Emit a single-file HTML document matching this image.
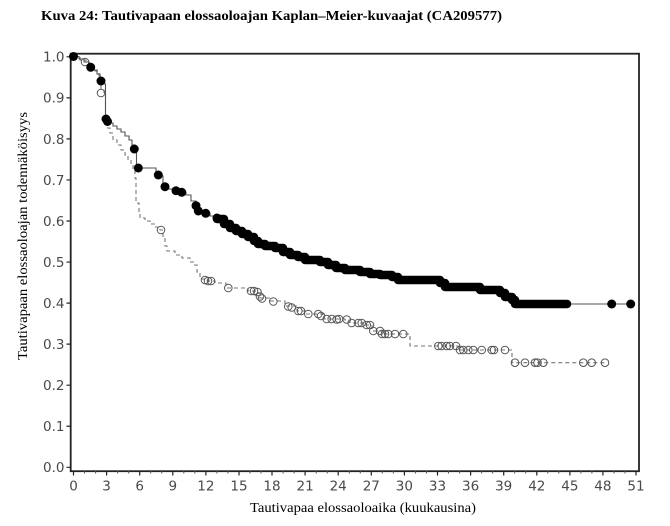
<!DOCTYPE html>
<html><head><meta charset="utf-8"><style>
html,body{margin:0;padding:0;background:#fff;}
svg{display:block;}
</style></head><body>
<svg width="670" height="526" viewBox="0 0 670 526" xmlns="http://www.w3.org/2000/svg">
<rect width="670" height="526" fill="#fff"/>
<text x="41" y="20" font-family="Liberation Serif, serif" font-weight="bold" font-size="14" fill="#000" textLength="461" lengthAdjust="spacingAndGlyphs">Kuva 24: Tautivapaan elossaoloajan Kaplan–Meier-kuvaajat (CA209577)</text>

<rect x="70.7" y="53.7" width="568.3" height="417.5" fill="none" stroke="#222" stroke-width="1.8"/>

<g stroke="#222" stroke-width="1.2">
<path d="M66.5,56.8H70.7M66.5,97.85H70.7M66.5,138.9H70.7M66.5,179.95H70.7M66.5,221H70.7M66.5,262.05H70.7M66.5,303.1H70.7M66.5,344.15H70.7M66.5,385.2H70.7M66.5,426.25H70.7M66.5,467.3H70.7"/>
</g>
<g font-family="DejaVu Sans, sans-serif" font-size="13.5" fill="#4a4a4a" text-anchor="end">
<text x="64.5" y="61.7">1.0</text>
<text x="64.5" y="102.7">0.9</text>
<text x="64.5" y="143.8">0.8</text>
<text x="64.5" y="184.8">0.7</text>
<text x="64.5" y="225.9">0.6</text>
<text x="64.5" y="266.9">0.5</text>
<text x="64.5" y="308">0.4</text>
<text x="64.5" y="349">0.3</text>
<text x="64.5" y="390.1">0.2</text>
<text x="64.5" y="431.1">0.1</text>
<text x="64.5" y="472.2">0.0</text>
</g>

<g stroke="#222" stroke-width="1.2">
<path d="M73.5,471V475.5M106.6,471V475.5M139.7,471V475.5M172.8,471V475.5M205.9,471V475.5M239,471V475.5M272,471V475.5M305.1,471V475.5M338.2,471V475.5M371.3,471V475.5M404.4,471V475.5M437.5,471V475.5M470.6,471V475.5M503.7,471V475.5M536.8,471V475.5M569.9,471V475.5M602.9,471V475.5M636,471V475.5"/>
</g>
<g stroke="#555" stroke-width="1">
<path d="M84.5,471V473.5M95.6,471V473.5M117.6,471V473.5M128.7,471V473.5M150.7,471V473.5M161.7,471V473.5M183.8,471V473.5M194.8,471V473.5M216.9,471V473.5M227.9,471V473.5M250,471V473.5M261,471V473.5M283.1,471V473.5M294.1,471V473.5M316.2,471V473.5M327.2,471V473.5M349.3,471V473.5M360.3,471V473.5M382.3,471V473.5M393.4,471V473.5M415.4,471V473.5M426.5,471V473.5M448.5,471V473.5M459.6,471V473.5M481.6,471V473.5M492.6,471V473.5M514.7,471V473.5M525.7,471V473.5M547.8,471V473.5M558.8,471V473.5M580.9,471V473.5M591.9,471V473.5M614,471V473.5M625,471V473.5"/>
</g>
<g font-family="DejaVu Sans, sans-serif" font-size="13.5" fill="#4a4a4a" text-anchor="middle">
<text x="73.5" y="490.5">0</text>
<text x="106.6" y="490.5">3</text>
<text x="139.7" y="490.5">6</text>
<text x="172.8" y="490.5">9</text>
<text x="205.9" y="490.5">12</text>
<text x="239" y="490.5">15</text>
<text x="272" y="490.5">18</text>
<text x="305.1" y="490.5">21</text>
<text x="338.2" y="490.5">24</text>
<text x="371.3" y="490.5">27</text>
<text x="404.4" y="490.5">30</text>
<text x="437.5" y="490.5">33</text>
<text x="470.6" y="490.5">36</text>
<text x="503.7" y="490.5">39</text>
<text x="536.8" y="490.5">42</text>
<text x="569.9" y="490.5">45</text>
<text x="602.9" y="490.5">48</text>
<text x="636" y="490.5">51</text>
</g>

<text x="363" y="512" font-family="Liberation Serif, serif" font-size="14" fill="#000" text-anchor="middle" textLength="226" lengthAdjust="spacingAndGlyphs">Tautivapaa elossaoloaika (kuukausina)</text>
<text transform="translate(27,236) rotate(-90)" font-family="Liberation Serif, serif" font-size="14" fill="#000" text-anchor="middle" textLength="248" lengthAdjust="spacingAndGlyphs">Tautivapaan elossaoloajan todennäköisyys</text>

<path d="M73.5,56.5 H80 V60 H86 V63 H90 V67 H95 V71 H99 V76 H101 V90 H104 V93 H105.5 V119 H106.5 V128 H110 V133 H113 V140 H117 V145 H121 V150 H125 V155 H128 V160 H131 V165 H133 V170 H135 V178 H136 V203 H139 V212 H140 V218 H145 V221 H150 V224 H155 V227 H160 V230 H163 V238 H165 V246 H167 V251 H175 V255 H182 V258 H190 V262 H194 V265 H197 V272 H200 V279 H208 V281 H215 V283 H226 V288 H248 V291 H258 V293 H260 V298 H270 V301 H285 V306 H297 V311 H306 V314 H323 V319 H345 V320 H350 V323 H365 V325 H372 V331 H382 V334 H410 V346 H458 V350 H512 V362.7 H606" fill="none" stroke="#777" stroke-width="1.1" stroke-dasharray="4,3"/>

<path d="M73.5,56.5 H79 V59 H84 V62 H89 V66 H93 V70 H97 V74 H100 V80 H104 V84 H105.5 V119 H109 V123 H113 V126 H117 V129 H121 V132 H125 V136 H129 V140 H132 V145 H135 V149 H136.5 V168 H156 V172 H160 V176 H163 V185 H167 V189 H178 V192 H186 V195 H191 V201 H196 V208 H201 V213 H210 V216 H218 V219 H224 V224 H230 V228 H236 V231 H242 V234 H248 V237 H254 V241 H258 V244 H265 V246 H275 V248 H283 V252 H290 V255 H298 V257 H305 V260 H320 V262 H328 V265 H336 V268 H345 V270 H360 V272 H370 V274 H380 V275 H392 V277 H398 V280 H440 V283 H445 V287 H480 V290 H500 V293 H505 V297 H512 V300 H515 V304 H631" fill="none" stroke="#555" stroke-width="1.1"/>

<path d="M217,219 H224 V224 H230 V228 H236 V231 H242 V234 H248 V237 H254 V241 H258 V244 H265 V246 H275 V248 H283 V252 H290 V255 H298 V257 H305 V260 H320 V262 H328 V265 H336 V268 H345 V270 H360 V272 H370 V274 H380 V275 H392 V277 H398 V280 H440 V283 H445 V287 H480 V290 H500 V293 H505 V297 H512 V300 H515 V304 H567" fill="none" stroke="#000" stroke-width="8.5" stroke-linejoin="round" stroke-linecap="round"/>

<g fill="none" stroke="#555" stroke-width="1">
<circle cx="85" cy="62" r="3.8"/>
<circle cx="101" cy="93" r="3.8"/>
<circle cx="161" cy="230" r="3.8"/>
<circle cx="205" cy="280" r="3.8"/>
<circle cx="208" cy="281" r="3.8"/>
<circle cx="211" cy="281" r="3.8"/>
<circle cx="228.3" cy="288" r="3.8"/>
<circle cx="251" cy="291" r="3.8"/>
<circle cx="254" cy="291" r="3.8"/>
<circle cx="257.5" cy="292" r="3.8"/>
<circle cx="260" cy="296.5" r="3.8"/>
<circle cx="262" cy="298.5" r="3.8"/>
<circle cx="273.3" cy="301.5" r="3.8"/>
<circle cx="288.3" cy="306.5" r="3.8"/>
<circle cx="291.7" cy="307.5" r="3.8"/>
<circle cx="298.3" cy="311" r="3.8"/>
<circle cx="301" cy="311" r="3.8"/>
<circle cx="308.3" cy="314" r="3.8"/>
<circle cx="318.3" cy="314" r="3.8"/>
<circle cx="321" cy="316" r="3.8"/>
<circle cx="326.7" cy="319" r="3.8"/>
<circle cx="331.7" cy="319" r="3.8"/>
<circle cx="336.7" cy="319.5" r="3.8"/>
<circle cx="339" cy="319" r="3.8"/>
<circle cx="346.7" cy="319.5" r="3.8"/>
<circle cx="351.7" cy="323" r="3.8"/>
<circle cx="358.3" cy="323" r="3.8"/>
<circle cx="361.7" cy="323" r="3.8"/>
<circle cx="366.7" cy="325" r="3.8"/>
<circle cx="370" cy="325" r="3.8"/>
<circle cx="373.3" cy="331" r="3.8"/>
<circle cx="380" cy="331" r="3.8"/>
<circle cx="382" cy="334" r="3.8"/>
<circle cx="385" cy="334" r="3.8"/>
<circle cx="388.3" cy="334" r="3.8"/>
<circle cx="395" cy="334" r="3.8"/>
<circle cx="403.3" cy="334" r="3.8"/>
<circle cx="438.3" cy="346" r="3.8"/>
<circle cx="441.7" cy="346" r="3.8"/>
<circle cx="446.7" cy="346" r="3.8"/>
<circle cx="450" cy="346" r="3.8"/>
<circle cx="456" cy="346" r="3.8"/>
<circle cx="460" cy="350" r="3.8"/>
<circle cx="463.3" cy="350" r="3.8"/>
<circle cx="468.3" cy="350" r="3.8"/>
<circle cx="473.3" cy="350" r="3.8"/>
<circle cx="481.7" cy="350" r="3.8"/>
<circle cx="491.7" cy="350" r="3.8"/>
<circle cx="494" cy="350" r="3.8"/>
<circle cx="505" cy="350" r="3.8"/>
<circle cx="515" cy="362.7" r="3.8"/>
<circle cx="525" cy="362.7" r="3.8"/>
<circle cx="535" cy="362.7" r="3.8"/>
<circle cx="537.5" cy="362.7" r="3.8"/>
<circle cx="543.3" cy="362.7" r="3.8"/>
<circle cx="583.3" cy="362.7" r="3.8"/>
<circle cx="591.7" cy="362.7" r="3.8"/>
<circle cx="605" cy="362.7" r="3.8"/>
</g>

<g fill="#000">
<circle cx="73.5" cy="56.5" r="4.5"/>
<circle cx="90.7" cy="67.3" r="4.5"/>
<circle cx="101" cy="81" r="4.5"/>
<circle cx="106" cy="119" r="4.5"/>
<circle cx="107.5" cy="121.5" r="4.5"/>
<circle cx="134.3" cy="149" r="4.5"/>
<circle cx="138.3" cy="168" r="4.5"/>
<circle cx="158.3" cy="175" r="4.5"/>
<circle cx="165" cy="186.7" r="4.5"/>
<circle cx="176" cy="190.7" r="4.5"/>
<circle cx="181.7" cy="192.3" r="4.5"/>
<circle cx="196" cy="205.7" r="4.5"/>
<circle cx="198.3" cy="211" r="4.5"/>
<circle cx="205.7" cy="213.3" r="4.5"/>
<circle cx="217" cy="218" r="4.5"/>
<circle cx="611.7" cy="304" r="4.5"/>
<circle cx="630.7" cy="304" r="4.5"/>
</g>
</svg>
</body></html>
